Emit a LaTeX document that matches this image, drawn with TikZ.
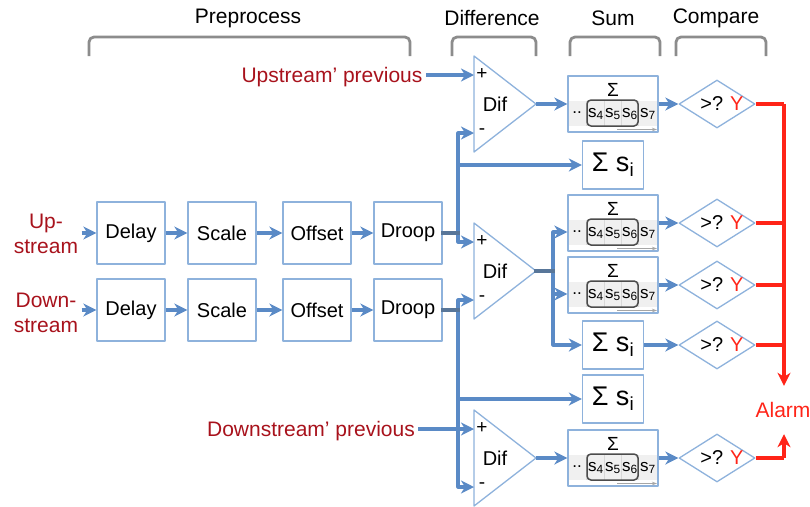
\documentclass[tikz,border=0pt]{standalone}
\usepackage{fontspec}
\setmainfont{Liberation Sans}
\usepackage{xcolor}
\usetikzlibrary{arrows.meta}
\usetikzlibrary{shapes.geometric}
\definecolor{ln}{HTML}{5A8AC6}
\definecolor{bx}{HTML}{8EB2DC}
\definecolor{stb}{HTML}{587699}
\definecolor{drd}{HTML}{A8121C}
\definecolor{rd}{HTML}{FF2418}
\definecolor{gr}{HTML}{8C8C8C}

\begin{document}
\begin{tikzpicture}[
            x = 1pt, y = -1pt, % pixel grid, y pointing down
            > = {Stealth[length = 13pt, width = 13pt, inset = 4pt]}, % arrow head style
            line join = round,
            font = \fontsize{20}{24}\selectfont
        ]

        \tikzstyle{block}=[
            draw = bx,
            line width = 1.3pt,
            fill = white,
            minimum width = 68pt,
            minimum height = 62pt,
            inner sep = 0pt
        ]
        \tikzstyle{sumbox}=[block, minimum width = 90pt, minimum height = 56pt]
        \tikzstyle{sigbox}=[block, minimum width = 61pt, minimum height = 48pt, font = \fontsize{27}{29}\selectfont]
        \tikzstyle{test}=[diamond, aspect = 1.6, draw = bx, line width = 1.3pt, fill = white,
            minimum width = 76pt, minimum height = 48pt, inner sep = 0pt]
        \tikzstyle{dif}=[draw = bx, line width = 1.3pt, fill = white]
        \tikzstyle{sign}=[font = \fontsize{19}{20}\selectfont, inner sep = 0pt]
        \tikzstyle{cell}=[font = \fontsize{17}{18}\selectfont, inner sep = 0pt]
        \tikzstyle{window}=[draw = gray!60!black, line width = 1.5pt, rounded corners = 4pt]
        \tikzstyle{wire}=[ln, line width = 3.2pt]
        \tikzstyle{stub}=[stb, line width = 3.4pt, line cap = rect]
        \tikzstyle{alarmwire}=[rd, line width = 3.2pt]
        \tikzstyle{brace}=[gr, line width = 2.8pt, rounded corners = 5pt]
        \tikzstyle{head}=[font = \fontsize{21}{24}\selectfont]
        \tikzstyle{src}=[drd, font = \fontsize{21}{25}\selectfont, align = center]

        \useasboundingbox (0,0) rectangle (810,506);

        % stage titles and brackets
        \node[head] (hpre) [at={(248,18)}] {Preprocess};
        \node[head] (hdif) [at={(492,18)}] {Difference};
        \node[head] (hsum) [at={(613,18)}] {Sum};
        \node[head] (hcmp) [at={(716,18)}] {Compare};
        \foreach \a/\b in {89/410, 452/536, 570/660, 676/766}
            \draw[brace] (\a,56) -- (\a,37) -- (\b,37) -- (\b,56);

        % inputs
        \node[src] (up) [at={(46,234)}] {Up-\\stream};
        \node[src] (down) [at={(46,313)}] {Down-\\stream};
        \node[src] (uprev) [at={(332,77)}] {Upstream' previous};
        \node[src] (dprev) [at={(311,431)}] {Downstream' previous};

        % preprocess rows
        \foreach \r/\y in {1/233, 2/310} {
            \node[block] (dly\r) [at={(131,\y)}] {Delay};
            \node[block] (scl\r) [at={(222,\y)}] {Scale};
            \node[block] (off\r) [at={(317,\y)}] {Offset};
            \node[block] (drp\r) [at={(408,\y)}] {Droop};
            \draw[wire, ->] (dly\r) -- (scl\r);
            \draw[wire, ->] (scl\r) -- (off\r);
            \draw[wire, ->] (off\r) -- (drp\r);
        }
        \draw[wire, ->] (up.east |- dly1.west) -- (dly1.west);
        \draw[wire, ->] (down.east |- dly2.west) -- (dly2.west);

        % difference stages
        \foreach \n/\y in {1/104, 2/271, 3/458} {
            \draw[dif] (474,\y-48) -- (536,\y) coordinate (d\n o) -- (474,\y+48) -- cycle;
            \coordinate (d\n p) at (474,\y-29);
            \coordinate (d\n m) at (474,\y+29);
            \node (d\n t) [at={(495,\y)}] {Dif};
            \node[sign] (d\n s) [at={(482,\y-30)}] {+};
            \node[sign] (d\n n) [at={(482,\y+28)}] {-};
        }

        % sums
        \node[sumbox] (sA) [at={(613,104)}] {};
        \node[sumbox] (sB) [at={(613,223)}] {};
        \node[sumbox] (sC) [at={(613,285)}] {};
        \node[sumbox] (sD) [at={(613,458)}] {};
        \node[sigbox] (gA) [at={(613,165)}] {Σ s\textsubscript{i}};
        \node[sigbox] (gB) [at={(613,345)}] {Σ s\textsubscript{i}};
        \node[sigbox] (gC) [at={(613,399)}] {Σ s\textsubscript{i}};

        \foreach \s in {sA, sB, sC, sD} {
            \begin{scope}[shift={(\s.center)}]
                \fill[gray!12] (-44,-3) rectangle (44,22);
                \foreach \x in {-27, -9, 8, 25}
                    \draw[gray!30, line width = 0.6pt] (\x,-3) -- (\x,22);
                \node[cell, font = \fontsize{19}{20}\selectfont] (\s-top) [at={(0,-14)}] {Σ};
                \node[cell] (\s-dd) [at={(-36,9)}] {..};
                \node[cell] (\s-4) [at={(-17,10)}] {s\textsubscript{4}};
                \node[cell] (\s-5) [at={(0,10)}] {s\textsubscript{5}};
                \node[cell] (\s-6) [at={(17,10)}] {s\textsubscript{6}};
                \node[cell] (\s-7) [at={(35,10)}] {s\textsubscript{7}};
                \draw[window] (-26,-4) rectangle (25,22);
                \draw[gray!70, line width = 0.8pt, -{Stealth[length = 5pt, width = 3.5pt]}] (4,25.5) -- (44,25.5);
            \end{scope}
        }

        % compare
        \foreach \c/\y in {cA/104, cB/223, cC/285, cD/345, cE/458}
            \node[test, label={[xshift = 5pt]center:{>?\hspace{7pt}\textcolor{rd}{Y}}}] (\c) [at={(717,\y)}] {};
        \node[rd, font = \fontsize{21}{24}\selectfont, minimum height = 48pt, inner sep = 0pt] (alarm) [at={(783,410)}] {Alarm};

        % wiring
        \coordinate (j1) at (458,233);
        \coordinate (j2) at (458,310);
        \coordinate (j3) at (553,271);
        \draw[wire, ->] (uprev.east |- d1p) -- (d1p);
        \draw[wire, ->] (dprev.east |- d3p) -- (d3p);
        \draw[wire, ->] (j1) |- (d1m);
        \draw[wire, ->] (j1) |- (gA);
        \draw[wire, ->] (j1) |- (d2p);
        \draw[wire, ->] (j2) |- (d2m);
        \draw[wire, ->] (j2) |- (gC);
        \draw[wire, ->] (j2) |- (d3m);
        \draw[stub] (drp1) -- (j1);
        \draw[stub] (drp2) -- (j2);

        \draw[wire, ->] (d1o) -- (sA);
        \draw[wire, ->] (j3) |- ([yshift = -9pt]sB.west);
        \draw[wire, ->] (j3) |- ([yshift = -9pt]sC.west);
        \draw[wire, ->] (j3) |- (gB);
        \draw[stub] (d2o) -- (j3);
        \draw[wire, ->] (d3o) -- (sD);

        \draw[wire, ->] (sA) -- (cA);
        \draw[wire, ->] (sB) -- (cB);
        \draw[wire, ->] (sC) -- (cC);
        \draw[wire, ->] (gB) -- (cD);
        \draw[wire, ->] (sD) -- (cE);

        % alarm
        \coordinate (rtop) at (784,104);
        \coordinate (rbot) at (784,458);
        \draw[alarmwire] (cA.east) -- (rtop);
        \draw[alarmwire, ->] (rtop) -- (alarm.north -| rtop);
        \draw[alarmwire] (cE.east) -- (rbot);
        \draw[alarmwire, ->] (rbot) -- (alarm.south -| rbot);
        \foreach \c in {cB, cC, cD}
            \draw[alarmwire] (\c.east) -- (\c.east -| rtop);
    \end{tikzpicture}
\end{document}
